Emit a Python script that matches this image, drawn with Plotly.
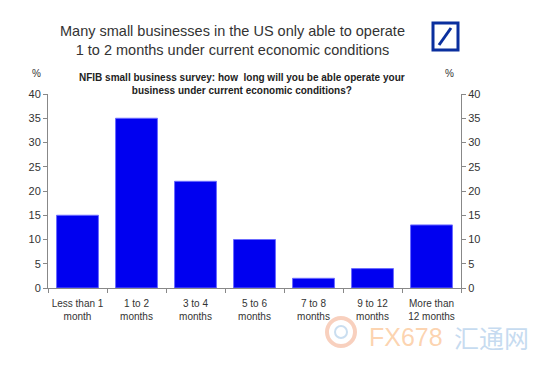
import plotly.graph_objects as go

categories = ["Less than 1<br>month", "1 to 2<br>months", "3 to 4<br>months", "5 to 6<br>months",
              "7 to 8<br>months", "9 to 12<br>months", "More than<br>12 months"]
values = [15, 35, 22, 10, 2, 4, 13]
y_ticks = [0, 5, 10, 15, 20, 25, 30, 35, 40]

# page body offsets the figure by 8px; work in screen coordinates and convert
OFF = 8
W, H = 550 - OFF, 366 - OFF
SL, SR, ST, SB = 48, 461, 94, 288  # plot area in screen px
L, T = SL - OFF, ST - OFF
R, B = W - (SR - OFF), H - (SB - OFF)

fig = go.Figure()
fig.add_trace(go.Bar(x=categories, y=values, marker=dict(color="#0000f0", line=dict(color="#6b6bff", width=1)),
                     width=0.71, showlegend=False, hoverinfo="skip"))
fig.add_trace(go.Scatter(x=categories, y=values, yaxis="y2", mode="markers",
                         marker=dict(opacity=0), showlegend=False, hoverinfo="skip"))

axis_common = dict(range=[0, 40], tickvals=y_ticks, ticks="outside", ticklen=4, tickcolor="#888",
                   showline=True, linecolor="#888", linewidth=1, showgrid=False, zeroline=False,
                   automargin=False,
                   tickfont=dict(family="Liberation Sans, Arial", size=11, color="#333"))

fig.update_layout(
    width=W, height=H,
    margin=dict(l=L, r=R, t=T, b=B),
    paper_bgcolor="white", plot_bgcolor="white",
    bargap=0.29,
    xaxis=dict(ticks="outside", tickson="boundaries", ticklen=4, tickcolor="#888", tickangle=0,
               ticklabelstandoff=6,
               showline=True, linecolor="#888", linewidth=1, showgrid=False, automargin=False,
               tickfont=dict(family="Liberation Sans, Arial", size=10, color="#333")),
    yaxis=dict(**axis_common, side="left"),
    yaxis2=dict(**axis_common, side="right", overlaying="y"),
    font=dict(family="Liberation Sans, Arial"),
)

pw, ph = SR - SL, SB - ST


def px(x, y):
    return (x - SL) / pw, (SB - y) / ph


ann = [
    dict(text="Many small businesses in the US only able to operate<br>1 to 2 months under current economic conditions",
         x=232, y=40, font=dict(size=14.5, color="#333")),
    dict(text="<b>NFIB small business survey: how  long will you be able operate your<br>business under current economic conditions?</b>",
         x=242, y=84, font=dict(size=10, color="#222")),
    dict(text="%", x=36, y=74, font=dict(size=10, color="#333")),
    dict(text="%", x=449, y=74, font=dict(size=10, color="#333")),
    dict(text="FX678", x=406, y=337, font=dict(size=25, color="rgba(250,175,110,0.55)", family="Liberation Sans")),
    dict(text="汇通网", x=491, y=337, font=dict(size=25, color="rgba(160,195,230,0.6)", family="Noto Sans CJK SC")),
]
for a in ann:
    a.update(xref="paper", yref="paper", showarrow=False, xanchor="center", yanchor="middle")
    a["x"], a["y"] = px(a["x"], a["y"])
fig.update_layout(annotations=ann)

x0, y0 = px(433, 23)
x1, y1 = px(458, 50)
sx0, sy0 = px(439, 45)
sx1, sy1 = px(451, 28)
cx0, cy0 = px(327, 318)
cx1, cy1 = px(355, 346)
ix0, iy0 = px(335, 326)
ix1, iy1 = px(347, 338)
fig.update_layout(shapes=[
    dict(type="rect", xref="paper", yref="paper", x0=x0, y0=y0, x1=x1, y1=y1,
         line=dict(color="#0a2f9e", width=3), fillcolor="white"),
    dict(type="line", xref="paper", yref="paper", x0=sx0, y0=sy0, x1=sx1, y1=sy1,
         line=dict(color="#0a2f9e", width=3)),
    dict(type="circle", xref="paper", yref="paper", x0=cx0, y0=cy0, x1=cx1, y1=cy1,
         line=dict(color="rgba(240,150,110,0.45)", width=4)),
    dict(type="circle", xref="paper", yref="paper", x0=ix0, y0=iy0, x1=ix1, y1=iy1,
         line=dict(color="rgba(150,190,225,0.5)", width=2)),
])

fig.write_html("out.html")
